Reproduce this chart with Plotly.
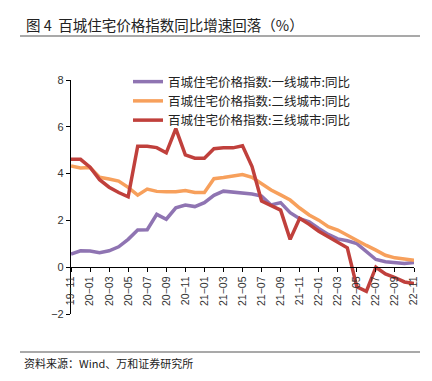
import plotly.graph_objects as go

months = ["19-11","19-12","20-01","20-02","20-03","20-04","20-05","20-06","20-07","20-08","20-09","20-10",
          "20-11","20-12","21-01","21-02","21-03","21-04","21-05","21-06","21-07","21-08","21-09","21-10",
          "21-11","21-12","22-01","22-02","22-03","22-04","22-05","22-06","22-07","22-08","22-09","22-10","22-11"]

tier1 = [0.56,0.70,0.69,0.62,0.70,0.87,1.19,1.59,1.60,2.26,2.05,2.54,2.66,2.59,2.76,3.07,3.25,3.21,3.18,3.13,
         3.04,2.66,2.76,2.33,2.07,1.94,1.66,1.40,1.21,1.13,1.01,0.66,0.33,0.23,0.19,0.16,0.20]
tier2 = [4.33,4.24,4.26,3.84,3.77,3.68,3.41,3.08,3.34,3.24,3.22,3.22,3.28,3.19,3.19,3.78,3.83,3.91,3.96,3.84,
         3.56,3.30,3.09,2.87,2.53,2.23,2.01,1.73,1.59,1.36,1.13,0.93,0.73,0.51,0.40,0.34,0.30]
tier3 = [4.61,4.61,4.27,3.74,3.42,3.19,3.01,5.17,5.17,5.11,4.89,5.92,4.80,4.66,4.66,5.06,5.10,5.10,5.19,4.30,
         2.83,2.64,2.44,1.19,2.09,1.83,1.54,1.30,1.07,0.83,-0.84,-1.03,0.00,-0.29,-0.44,-0.63,-0.70]

names = ["百城住宅价格指数:一线城市:同比", "百城住宅价格指数:二线城市:同比", "百城住宅价格指数:三线城市:同比"]
colors = ["#8F74B2", "#F7A05C", "#C0403C"]

tick_idx = list(range(0, len(months), 2))
tick_txt = [months[i].replace("-", "\u2212") for i in tick_idx]
y_ticks = [-2, 0, 2, 4, 6, 8]

OFF = 8  # page body margin
W, H = 432 - OFF, 381 - OFF
L, T = 71 - OFF, 80 - OFF
pw, ph = 343, 234
R, B = W - L - pw, H - T - ph

def px(x):
    return (x - OFF - L) / pw

def py(y):
    return (H - B - (y - OFF)) / ph

fig = go.Figure()
xs = list(range(len(months)))
for name, ys, c in zip(names, [tier1, tier2, tier3], colors):
    fig.add_trace(go.Scatter(x=xs, y=ys, mode="lines", name=name,
                             line=dict(color=c, width=3.5)))

font_cjk = "Noto Sans CJK SC, Liberation Sans, sans-serif"

fig.update_layout(
    width=W, height=H,
    margin=dict(l=L, r=R, t=T, b=B, pad=0),
    paper_bgcolor="white", plot_bgcolor="white",
    font=dict(family=font_cjk, color="#222"),
    showlegend=True,
    legend=dict(x=px(128), y=py(67), xanchor="left", yanchor="top",
                font=dict(size=12.5, family=font_cjk, color="#222"),
                bgcolor="rgba(0,0,0,0)", itemwidth=30, tracegroupgap=0),
    xaxis=dict(range=[0, len(months) - 1], tickmode="array", tickvals=tick_idx, ticktext=tick_txt,
               tickangle=-90, anchor="free", position=0.2,
               showline=True, linecolor="#000", linewidth=1.2,
               ticks="outside", ticklen=4, tickcolor="#000", showgrid=False, zeroline=False,
               tickfont=dict(size=10.5, family="Liberation Sans, Arial, sans-serif", color="#333")),
    yaxis=dict(range=[-2, 8], tickmode="array", tickvals=y_ticks,
               showline=True, linecolor="#000", linewidth=1.2,
               ticks="outside", ticklen=4, tickcolor="#000", showgrid=False, zeroline=False,
               tickfont=dict(size=11, family="Liberation Sans, Arial, sans-serif", color="#333")),
)

fig.add_annotation(text="图 4  百城住宅价格指数同比增速回落（%）", xref="paper", yref="paper",
                   x=px(24), y=py(25), xanchor="left", yanchor="middle", showarrow=False,
                   font=dict(size=14.5, family=font_cjk, color="#222"))
fig.add_annotation(text="资料来源：Wind、万和证券研究所", xref="paper", yref="paper",
                   x=px(22), y=py(363), xanchor="left", yanchor="middle", showarrow=False,
                   font=dict(size=11, family=font_cjk, color="#222"))
fig.add_shape(type="line", xref="paper", yref="paper", x0=px(20), x1=px(420), y0=py(36), y1=py(36),
              line=dict(color="#555", width=1.2))
fig.add_shape(type="line", xref="paper", yref="paper", x0=px(20), x1=px(420), y0=py(352), y1=py(352),
              line=dict(color="#555", width=1.2))

fig.write_html("out.html")
